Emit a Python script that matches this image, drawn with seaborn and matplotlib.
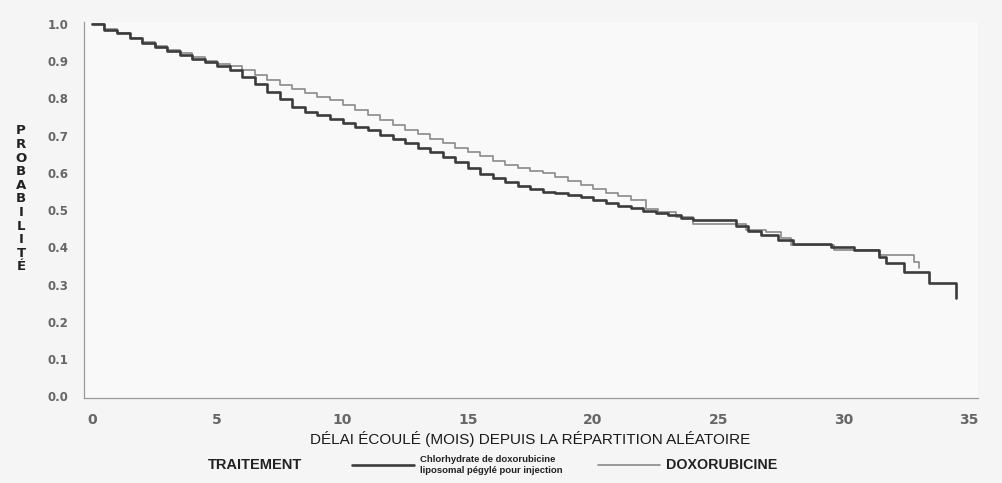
import numpy as np
import pandas as pd
import seaborn as sns
import matplotlib.pyplot as plt
from matplotlib.ticker import MultipleLocator

# données (Kaplan-Meier)
t_peg = [0, 0.5, 1, 1.5, 2, 2.5, 3, 3.5, 4, 4.5, 5, 5.5, 6, 6.5, 7, 7.5, 8, 8.5, 9, 9.5,
         10, 10.5, 11, 11.5, 12, 12.5, 13, 13.5, 14, 14.5, 15, 15.5, 16, 16.5, 17, 17.5,
         18, 18.5, 19, 19.5, 20, 20.5, 21, 21.5, 22, 22.5, 23, 23.5, 24, 25.7, 26.2, 26.7,
         27.4, 28, 29.5, 30.4, 31.4, 31.7, 32.4, 33.4, 34.5]
s_peg = [1.0, 0.985, 0.975, 0.962, 0.95, 0.938, 0.927, 0.917, 0.907, 0.897, 0.888, 0.876,
         0.858, 0.838, 0.818, 0.798, 0.778, 0.765, 0.755, 0.745, 0.735, 0.724, 0.714, 0.702,
         0.69, 0.68, 0.668, 0.657, 0.643, 0.63, 0.612, 0.598, 0.585, 0.575, 0.566, 0.557,
         0.55, 0.546, 0.541, 0.534, 0.526, 0.519, 0.512, 0.506, 0.498, 0.492, 0.487, 0.48,
         0.473, 0.456, 0.445, 0.433, 0.42, 0.41, 0.40, 0.392, 0.374, 0.357, 0.333, 0.304, 0.263]

t_dox = [0, 0.5, 1, 1.5, 2, 2.5, 3, 3.5, 4, 4.5, 5, 5.5, 6, 6.5, 7, 7.5, 8, 8.5, 9, 9.5,
         10, 10.5, 11, 11.5, 12, 12.5, 13, 13.5, 14, 14.5, 15, 15.5, 16, 16.5, 17, 17.5,
         18, 18.5, 19, 19.5, 20, 20.5, 21, 21.5, 22.1, 22.6, 23.3, 24, 26.1, 26.9, 27.5,
         27.9, 29.6, 31.4, 32.8, 33.0]
s_dox = [1.0, 0.987, 0.976, 0.963, 0.951, 0.94, 0.93, 0.921, 0.912, 0.902, 0.894, 0.888,
         0.876, 0.862, 0.849, 0.837, 0.825, 0.815, 0.805, 0.795, 0.783, 0.768, 0.756, 0.742,
         0.728, 0.715, 0.704, 0.692, 0.68, 0.668, 0.655, 0.645, 0.632, 0.62, 0.613, 0.606,
         0.6, 0.59, 0.579, 0.568, 0.556, 0.546, 0.538, 0.528, 0.503, 0.494, 0.482, 0.462,
         0.447, 0.44, 0.425, 0.406, 0.392, 0.379, 0.36, 0.344]

label_peg = 'Chlorhydrate de doxorubicine\nliposomal pégylé pour injection'
label_dox = 'DOXORUBICINE'

sns.set_style('white')
plt.rcParams['font.family'] = ['Liberation Sans', 'DejaVu Sans']

fig = plt.figure(figsize=(10.03, 4.83), dpi=100, facecolor='#f5f5f5')
ax = fig.add_axes([0.0837, 0.176, 0.891, 0.778])
ax.set_facecolor('#f9f9f9')

df_peg = pd.DataFrame({'t': t_peg, 's': s_peg})
df_dox = pd.DataFrame({'t': t_dox, 's': s_dox})

sns.lineplot(data=df_dox, x='t', y='s', estimator=None, drawstyle='steps-post',
             color='#8a8a8a', linewidth=1.2, ax=ax)
sns.lineplot(data=df_peg, x='t', y='s', estimator=None, drawstyle='steps-post',
             color='#3c3c3c', linewidth=1.9, ax=ax)
h_dox, h_peg = ax.lines[0], ax.lines[1]

ax.set_xlim(-0.32, 35.35)
ax.set_ylim(-0.005, 1.005)
ax.xaxis.set_major_locator(MultipleLocator(5))
ax.xaxis.set_minor_locator(MultipleLocator(1))
ax.yaxis.set_minor_locator(MultipleLocator(0.02))
ax.set_yticks(np.arange(0, 1.01, 0.1))
ax.set_yticklabels([f'{v:.1f}' for v in np.arange(0, 1.01, 0.1)])

for side in ['top', 'right']:
    ax.spines[side].set_visible(False)
for side in ['left', 'bottom']:
    ax.spines[side].set_color('#9a9a9a')
    ax.spines[side].set_linewidth(0.9)

ax.tick_params(axis='both', which='major', direction='out', length=4, width=0.8,
               color='#9a9a9a', labelcolor='#666666')
ax.tick_params(axis='both', which='minor', direction='out', length=2, width=0.6,
               color='#b0b0b0')
ax.tick_params(axis='x', which='major', pad=7, labelsize=10)
ax.tick_params(axis='y', which='major', pad=7, labelsize=8.5)
for lab in ax.get_xticklabels() + ax.get_yticklabels():
    lab.set_family(['DejaVu Sans'])
    lab.set_fontweight('bold')

ax.set_xlabel('')
ax.set_ylabel('')

fig.text(0.5285, 0.091, 'DÉLAI ÉCOULÉ (MOIS) DEPUIS LA RÉPARTITION ALÉATOIRE',
         ha='center', va='center', fontsize=11, color='#1a1a1a')
fig.text(0.021, 0.588, '\n'.join('PROBABILITÉ'), ha='center', va='center',
         fontsize=9.5, fontweight='bold', color='#222222', linespacing=1.06,
         family=['DejaVu Sans'])

fig.text(0.254, 0.037, 'TRAITEMENT', ha='center', va='center', fontsize=10.5,
         fontweight='bold', color='#222222')
leg = fig.legend(handles=[h_peg, h_dox], labels=[label_peg, label_dox],
                 loc='center left', bbox_to_anchor=(0.342, 0.037), ncol=2,
                 frameon=False, handlelength=6.6, handletextpad=0.6,
                 columnspacing=3.8, fontsize=6.8)
leg.get_texts()[0].set_fontweight('bold')
leg.get_texts()[1].set_fontsize(10.3)
leg.get_texts()[1].set_fontweight('bold')
for t in leg.get_texts():
    t.set_color('#222222')

fig.savefig('out.png', dpi=100, facecolor=fig.get_facecolor())
